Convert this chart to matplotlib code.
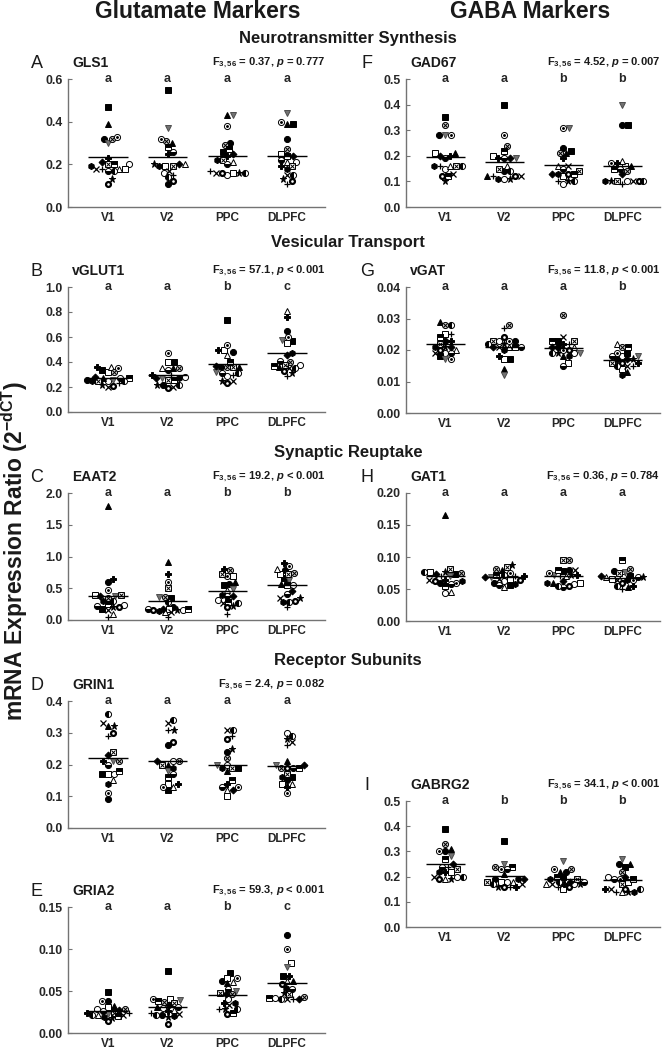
import matplotlib
matplotlib.use('Agg')
import matplotlib.pyplot as plt
import numpy as np

plt.rcParams['font.family'] = 'Liberation Sans'
plt.rcParams['mathtext.fontset'] = 'custom'
plt.rcParams['mathtext.rm'] = 'Liberation Sans:bold'
plt.rcParams['mathtext.it'] = 'Liberation Sans:italic:bold'
plt.rcParams['mathtext.bf'] = 'Liberation Sans:bold'

regions = ['V1', 'V2', 'PPC', 'DLPFC']

# one row per region (V1, V2, PPC, DLPFC), one value per subject (20 subjects)
gls1 = [
    [0.32, 0.20, 0.47, 0.18, 0.39, 0.18, 0.30, 0.32, 0.33, 0.20, 0.20, 0.17, 0.18, 0.18, 0.13, 0.11, 0.23, 0.17, 0.19, 0.21],
    [0.11, 0.16, 0.55, 0.19, 0.30, 0.20, 0.37, 0.31, 0.32, 0.19, 0.28, 0.26, 0.17, 0.15, 0.20, 0.12, 0.25, 0.14, 0.19, 0.20],
    [0.30, 0.15, 0.26, 0.16, 0.43, 0.21, 0.43, 0.29, 0.38, 0.22, 0.27, 0.20, 0.16, 0.17, 0.16, 0.16, 0.24, 0.16, 0.22, 0.25],
    [0.32, 0.21, 0.39, 0.25, 0.39, 0.21, 0.44, 0.27, 0.40, 0.19, 0.24, 0.22, 0.15, 0.11, 0.13, 0.12, 0.19, 0.15, 0.18, 0.24],
]
vglut1 = [
    [0.26, 0.25, 0.34, 0.32, 0.27, 0.36, 0.26, 0.32, 0.35, 0.25, 0.27, 0.27, 0.20, 0.23, 0.22, 0.21, 0.36, 0.25, 0.25, 0.28],
    [0.22, 0.28, 0.40, 0.40, 0.35, 0.35, 0.27, 0.35, 0.47, 0.26, 0.26, 0.34, 0.20, 0.30, 0.22, 0.19, 0.30, 0.22, 0.27, 0.27],
    [0.48, 0.29, 0.74, 0.50, 0.36, 0.46, 0.32, 0.36, 0.54, 0.36, 0.40, 0.31, 0.25, 0.30, 0.25, 0.23, 0.50, 0.31, 0.36, 0.37],
    [0.65, 0.38, 0.57, 0.55, 0.36, 0.81, 0.58, 0.40, 0.60, 0.38, 0.37, 0.41, 0.35, 0.29, 0.31, 0.33, 0.76, 0.35, 0.47, 0.46],
]
eaat2 = [
    [0.60, 0.23, 0.18, 0.40, 1.80, 0.10, 0.38, 0.34, 0.48, 0.40, 0.25, 0.22, 0.15, 0.05, 0.20, 0.20, 0.65, 0.30, 0.30, 0.38],
    [0.20, 0.15, 0.35, 0.18, 0.92, 0.13, 0.36, 0.36, 0.60, 0.50, 0.17, 0.17, 0.12, 0.05, 0.15, 0.15, 0.73, 0.28, 0.14, 0.18],
    [0.57, 0.32, 0.55, 0.70, 0.60, 0.48, 0.49, 0.78, 0.70, 0.72, 0.29, 0.38, 0.26, 0.10, 0.22, 0.20, 0.80, 0.27, 0.40, 0.38],
    [0.79, 0.55, 0.66, 0.73, 0.57, 0.80, 0.63, 0.74, 0.85, 0.72, 0.55, 0.41, 0.35, 0.20, 0.35, 0.30, 0.90, 0.28, 0.28, 0.46],
]
grin1 = [
    [0.09, 0.17, 0.17, 0.17, 0.32, 0.15, 0.21, 0.21, 0.11, 0.24, 0.18, 0.20, 0.33, 0.29, 0.32, 0.30, 0.21, 0.36, 0.14, 0.23],
    [0.26, 0.21, 0.12, 0.14, 0.20, 0.13, 0.18, 0.21, 0.13, 0.20, 0.16, 0.17, 0.33, 0.31, 0.31, 0.27, 0.14, 0.34, 0.19, 0.21],
    [0.24, 0.20, 0.19, 0.10, 0.18, 0.12, 0.20, 0.22, 0.13, 0.19, 0.15, 0.13, 0.31, 0.29, 0.25, 0.28, 0.14, 0.31, 0.19, 0.12],
    [0.15, 0.30, 0.16, 0.14, 0.21, 0.14, 0.20, 0.19, 0.11, 0.17, 0.19, 0.19, 0.27, 0.26, 0.28, 0.19, 0.13, 0.29, 0.16, 0.20],
]
gria2 = [
    [0.038, 0.028, 0.049, 0.031, 0.032, 0.021, 0.023, 0.028, 0.038, 0.024, 0.020, 0.026, 0.022, 0.024, 0.018, 0.014, 0.024, 0.022, 0.019, 0.027],
    [0.021, 0.030, 0.074, 0.040, 0.031, 0.027, 0.039, 0.037, 0.041, 0.036, 0.038, 0.031, 0.023, 0.024, 0.019, 0.011, 0.026, 0.021, 0.020, 0.033],
    [0.062, 0.040, 0.072, 0.066, 0.059, 0.061, 0.050, 0.046, 0.066, 0.048, 0.024, 0.052, 0.033, 0.029, 0.029, 0.023, 0.036, 0.029, 0.036, 0.046],
    [0.117, 0.042, 0.068, 0.083, 0.062, 0.062, 0.078, 0.043, 0.100, 0.046, 0.042, 0.052, 0.040, 0.040, 0.048, 0.058, 0.068, 0.040, 0.054, 0.041],
]
gad67 = [
    [0.28, 0.15, 0.35, 0.21, 0.21, 0.16, 0.28, 0.32, 0.28, 0.16, 0.12, 0.19, 0.13, 0.16, 0.10, 0.12, 0.20, 0.16, 0.16, 0.20],
    [0.14, 0.11, 0.40, 0.20, 0.12, 0.16, 0.19, 0.24, 0.28, 0.15, 0.22, 0.19, 0.12, 0.12, 0.11, 0.12, 0.19, 0.14, 0.11, 0.19],
    [0.23, 0.09, 0.22, 0.12, 0.21, 0.16, 0.31, 0.21, 0.31, 0.14, 0.13, 0.15, 0.16, 0.10, 0.10, 0.13, 0.19, 0.10, 0.13, 0.13],
    [0.32, 0.10, 0.32, 0.16, 0.16, 0.18, 0.40, 0.14, 0.17, 0.10, 0.15, 0.15, 0.10, 0.09, 0.10, 0.10, 0.17, 0.10, 0.10, 0.13],
]
vgat = [
    [0.023, 0.019, 0.018, 0.025, 0.029, 0.020, 0.017, 0.028, 0.017, 0.022, 0.024, 0.019, 0.019, 0.025, 0.021, 0.020, 0.023, 0.028, 0.021, 0.021],
    [0.023, 0.023, 0.017, 0.017, 0.014, 0.021, 0.012, 0.028, 0.023, 0.023, 0.021, 0.021, 0.021, 0.027, 0.022, 0.024, 0.018, 0.022, 0.020, 0.021],
    [0.021, 0.019, 0.023, 0.016, 0.018, 0.021, 0.019, 0.031, 0.020, 0.023, 0.023, 0.015, 0.024, 0.022, 0.019, 0.020, 0.022, 0.019, 0.018, 0.021],
    [0.017, 0.018, 0.019, 0.014, 0.013, 0.022, 0.018, 0.021, 0.019, 0.016, 0.021, 0.018, 0.015, 0.015, 0.017, 0.016, 0.016, 0.015, 0.012, 0.017],
]
gat1 = [
    [0.060, 0.043, 0.073, 0.076, 0.166, 0.045, 0.070, 0.075, 0.060, 0.082, 0.055, 0.058, 0.064, 0.070, 0.076, 0.062, 0.064, 0.076, 0.062, 0.074],
    [0.060, 0.062, 0.056, 0.065, 0.080, 0.053, 0.068, 0.081, 0.075, 0.085, 0.072, 0.056, 0.066, 0.070, 0.087, 0.064, 0.070, 0.072, 0.058, 0.068],
    [0.080, 0.058, 0.078, 0.060, 0.060, 0.070, 0.072, 0.096, 0.075, 0.096, 0.080, 0.053, 0.080, 0.070, 0.072, 0.054, 0.072, 0.055, 0.060, 0.062],
    [0.078, 0.068, 0.070, 0.066, 0.053, 0.068, 0.077, 0.082, 0.064, 0.075, 0.095, 0.068, 0.064, 0.050, 0.068, 0.060, 0.055, 0.055, 0.064, 0.070],
]
gabrg2 = [
    [0.30, 0.20, 0.39, 0.22, 0.31, 0.19, 0.28, 0.33, 0.30, 0.23, 0.27, 0.24, 0.20, 0.24, 0.19, 0.19, 0.22, 0.20, 0.22, 0.25],
    [0.19, 0.18, 0.34, 0.18, 0.21, 0.18, 0.25, 0.24, 0.23, 0.18, 0.24, 0.23, 0.17, 0.16, 0.16, 0.16, 0.16, 0.17, 0.19, 0.19],
    [0.22, 0.17, 0.20, 0.15, 0.22, 0.17, 0.26, 0.23, 0.23, 0.19, 0.20, 0.18, 0.17, 0.16, 0.17, 0.16, 0.17, 0.18, 0.19, 0.18],
    [0.25, 0.20, 0.24, 0.18, 0.25, 0.14, 0.27, 0.22, 0.19, 0.17, 0.19, 0.19, 0.15, 0.14, 0.14, 0.15, 0.15, 0.15, 0.14, 0.20],
]

# (panel letter, gene, data, y max, y step, decimals, F, p text, group letters)
panels = [
    ('A', 'GLS1', gls1, 0.6, 0.2, 1, '0.37', '= 0.777', 'aaaa'),
    ('B', 'vGLUT1', vglut1, 1.0, 0.2, 1, '57.1', '< 0.001', 'aabc'),
    ('C', 'EAAT2', eaat2, 2.0, 0.5, 1, '19.2', '< 0.001', 'aabb'),
    ('D', 'GRIN1', grin1, 0.4, 0.1, 1, '2.4', '= 0.082', 'aaaa'),
    ('E', 'GRIA2', gria2, 0.15, 0.05, 2, '59.3', '< 0.001', 'aabc'),
    ('F', 'GAD67', gad67, 0.5, 0.1, 1, '4.52', '= 0.007', 'aabb'),
    ('G', 'vGAT', vgat, 0.04, 0.01, 2, '11.8', '< 0.001', 'aaab'),
    ('H', 'GAT1', gat1, 0.20, 0.05, 2, '0.36', '= 0.784', 'aaaa'),
    ('I', 'GABRG2', gabrg2, 0.5, 0.1, 1, '34.1', '< 0.001', 'abbb'),
]

# axes boxes in pixels: left, top, right, bottom
boxes = {
    'A': (68, 79, 325, 207), 'B': (68, 287, 325, 412), 'C': (68, 493, 325, 620),
    'D': (68, 701, 325, 828), 'E': (68, 907, 325, 1033),
    'F': (406, 79, 660, 207), 'G': (406, 287, 660, 413), 'H': (406, 493, 660, 621),
    'I': (406, 801, 660, 927),
}

MS = 4.4
styles = [
    [dict(marker='o', mfc='k', mec='k')],
    [dict(marker='o', mfc='w', mec='k')],
    [dict(marker='s', mfc='k', mec='k')],
    [dict(marker='s', mfc='w', mec='k')],
    [dict(marker='^', mfc='k', mec='k')],
    [dict(marker='^', mfc='w', mec='k')],
    [dict(marker='v', mfc='0.45', mec='0.3')],
    [dict(marker='o', mfc='0.8', mec='k'), dict(marker='x', mec='k', ms=MS * 0.7, mew=0.7)],
    [dict(marker='o', mfc='w', mec='k'), dict(marker='o', mfc='k', mec='k', ms=MS * 0.3)],
    [dict(marker='s', mfc='w', mec='k'), dict(marker='x', mec='k', ms=MS * 0.75, mew=0.7)],
    [dict(marker='s', mfc='k', mec='k', fillstyle='top', markerfacecoloralt='w')],
    [dict(marker='o', mfc='k', mec='k', fillstyle='bottom', markerfacecoloralt='w')],
    [dict(marker='x', mec='k', mew=0.9)],
    [dict(marker='+', mec='k', mew=0.9)],
    [dict(marker='*', mfc='k', mec='k', ms=MS * 1.2)],
    [dict(marker='o', mfc='w', mec='k', mew=1.6, ms=MS * 0.8)],
    [dict(marker='P', mfc='k', mec='k')],
    [dict(marker='o', mfc='k', mec='k', fillstyle='left', markerfacecoloralt='w')],
    [dict(marker='h', mfc='k', mec='k')],
    [dict(marker='D', mfc='k', mec='k', ms=MS * 0.8)],
]

W, H = 663, 1050
fig = plt.figure(figsize=(W / 100, H / 100), dpi=100)
XLIM = (-0.67, 3.64)


def swarm(vals, ymax, hpx, px_per_unit, d=5.6, maxoff=21.0):
    # simple beeswarm limited to +-maxoff pixels; falls back to the least crowded slot
    ypx = np.asarray(vals) / ymax * hpx
    offs = np.zeros(len(vals))
    placed = []
    steps = int(maxoff / 0.5)
    cands = [0.0] + [s * k * 0.5 for k in range(1, steps + 1) for s in (1, -1)]
    for i in np.argsort(ypx):
        best, best_d = 0.0, -1.0
        for c in cands:
            dmin = min([np.hypot(c - px, ypx[i] - py) for px, py in placed] + [99.0])
            if dmin >= d:
                best = c
                break
            if dmin > best_d:
                best, best_d = c, dmin
        offs[i] = best
        placed.append((best, ypx[i]))
    return offs / px_per_unit


for letter, gene, data, ymax, ystep, dec, fval, ptxt, sig in panels:
    l, t, r, b = boxes[letter]
    ax = fig.add_axes([l / W, 1 - b / H, (r - l) / W, (b - t) / H])
    ax.set_xlim(*XLIM)
    ax.set_ylim(0, ymax)
    px_per_unit = (r - l) / (XLIM[1] - XLIM[0])
    for gi, vals in enumerate(data):
        offs = swarm(vals, ymax, b - t, px_per_unit)
        for si, v in enumerate(vals):
            for st in styles[si]:
                kw = dict(ms=MS, mew=0.7, ls='none')
                kw.update(st)
                ax.plot(gi + offs[si], v, clip_on=False, zorder=3, **kw)
        m = np.mean(vals)
        ax.hlines(m, gi - 0.33, gi + 0.33, color='k', lw=1.0, zorder=4)
        ax.text(gi, ymax, sig[gi], ha='center', va='center', fontsize=9,
                fontweight='bold', color='0.15')
    ax.set_yticks(np.round(np.arange(0, ymax + ystep / 2, ystep), 3))
    ax.yaxis.set_major_formatter(matplotlib.ticker.FormatStrFormatter('%.' + str(dec) + 'f'))
    ax.set_xticks(range(4))
    ax.set_xticklabels(regions)
    for s in ('top', 'right'):
        ax.spines[s].set_visible(False)
    for s in ('left', 'bottom'):
        ax.spines[s].set_color('0.45')
        ax.spines[s].set_linewidth(1.0)
    ax.tick_params(axis='y', direction='in', length=3, width=0.8, color='0.45', pad=4, labelsize=8.8)
    ax.tick_params(axis='x', length=0, pad=3.5, labelsize=8.5)
    for lab in ax.get_xticklabels() + ax.get_yticklabels():
        lab.set_fontweight('bold')
        lab.set_color('0.15')

    ty = 1 - (t - 16) / H
    lx = l - 31 if l < 200 else l - 39
    fig.text(lx / W, ty, letter, ha='center', va='center', fontsize=13, color='0.1')
    fig.text((l + 4) / W, ty, gene, ha='left', va='center', fontsize=10,
             fontweight='bold', color='0.1')
    fig.text(r / W, ty, r'F$_{\mathrm{3,56}}$ = ' + fval + r', $\it{p}$ ' + ptxt,
             ha='right', va='center', fontsize=8, fontweight='bold', color='0.1')

# column headers and section titles
fig.text(198 / W, 1 - 12 / H, 'Glutamate Markers', ha='center', va='center',
         fontsize=16.5, fontweight='bold', color='0.1')
fig.text(530 / W, 1 - 12 / H, 'GABA Markers', ha='center', va='center',
         fontsize=16.5, fontweight='bold', color='0.1')
for txt, y in [('Neurotransmitter Synthesis', 39), ('Vesicular Transport', 243),
               ('Synaptic Reuptake', 452), ('Receptor Subunits', 660)]:
    fig.text(348 / W, 1 - y / H, txt, ha='center', va='center', fontsize=12,
             fontweight='bold', color='0.1')

fig.text(15 / W, 1 - 551 / H, r'mRNA Expression Ratio (2$^{\mathrm{-dCT}}$)',
         rotation=90, ha='center', va='center', fontsize=16.5, fontweight='bold', color='0.1')

fig.savefig('out.png', dpi=100)
